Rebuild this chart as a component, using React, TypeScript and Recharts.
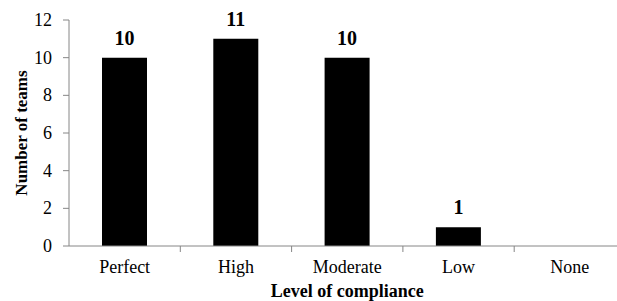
import React from 'react';
import { BarChart, Bar, XAxis, YAxis, LabelList, Label } from 'recharts';

const categories = ['Perfect', 'High', 'Moderate', 'Low', 'None'];
const teams = [10, 11, 10, 1, 0];
const yTicks = [0, 2, 4, 6, 8, 10, 12];

const data = categories.map((c, i) => ({ level: c, teams: teams[i] }));

const FONT = '"Liberation Serif", "Times New Roman", serif';
const AXIS = '#868686';
const BAND = 111.3;

const XTick = (props: any) => {
  const { x, y, index } = props;
  const isLast = index === categories.length - 1;
  return (
    <g>
      {index > 0 && (
        <line x1={x - BAND / 2} x2={x - BAND / 2} y1={y} y2={y + 6} stroke={AXIS} strokeWidth={1} />
      )}
      {isLast && (
        <line x1={x + BAND / 2} x2={x + BAND / 2} y1={y} y2={y + 6} stroke={AXIS} strokeWidth={1} />
      )}
      <text x={x} y={y + 27} textAnchor="middle" fontFamily={FONT} fontSize={18} fill="#000">
        {props.payload.value}
      </text>
    </g>
  );
};

const YTick = (props: any) => {
  const { x, y } = props;
  return (
    <g>
      <line x1={69 - 6} x2={69} y1={y} y2={y} stroke={AXIS} strokeWidth={1} />
      <text x={52} y={y} textAnchor="end" dominantBaseline="central" fontFamily={FONT} fontSize={18} fill="#000">
        {props.payload.value}
      </text>
    </g>
  );
};

export default function App() {
  return (
    <div style={{ position: 'absolute', left: 0, top: 0, width: 617, height: 301, overflow: 'hidden', background: '#fff' }}>
      <BarChart
        width={640}
        height={301}
        data={data}
        margin={{ top: 20, right: 14.5, left: 0, bottom: 0 }}
      >
        <XAxis
          dataKey="level"
          height={55}
          tickLine={false}
          tickSize={0}
          tickMargin={0}
          axisLine={{ stroke: AXIS, strokeWidth: 1 }}
          tick={<XTick />}
          interval={0}
        >
          <Label
            content={(p: any) => {
              const vb = p.viewBox;
              return (
                <text x={vb.x + vb.width / 2} y={vb.y + 51} textAnchor="middle" fontFamily={FONT} fontSize={18} fontWeight="bold" fill="#000">
                  Level of compliance
                </text>
              );
            }}
          />
        </XAxis>
        <YAxis
          width={69}
          domain={[0, 12]}
          ticks={yTicks}
          interval={0}
          tickLine={false}
          axisLine={{ stroke: AXIS, strokeWidth: 1 }}
          tick={<YTick />}
        >
          <Label
            content={(p: any) => {
              const vb = p.viewBox;
              const cx = vb.x + 21;
              const cy = vb.y + vb.height / 2;
              return (
                <text x={cx} y={cy} transform={`rotate(-90, ${cx}, ${cy})`} textAnchor="middle" dominantBaseline="central" fontFamily={FONT} fontSize={17} fontWeight="bold" fill="#000">
                  Number of teams
                </text>
              );
            }}
          />
        </YAxis>
        <Bar dataKey="teams" fill="#000" barSize={45} isAnimationActive={false}>
          <LabelList
            dataKey="teams"
            position="top"
            offset={13}
            formatter={(v: any) => (v ? v : '')}
            style={{ fontFamily: FONT, fontSize: 20, fontWeight: 'bold', fill: '#000' }}
          />
        </Bar>
      </BarChart>
    </div>
  );
}
